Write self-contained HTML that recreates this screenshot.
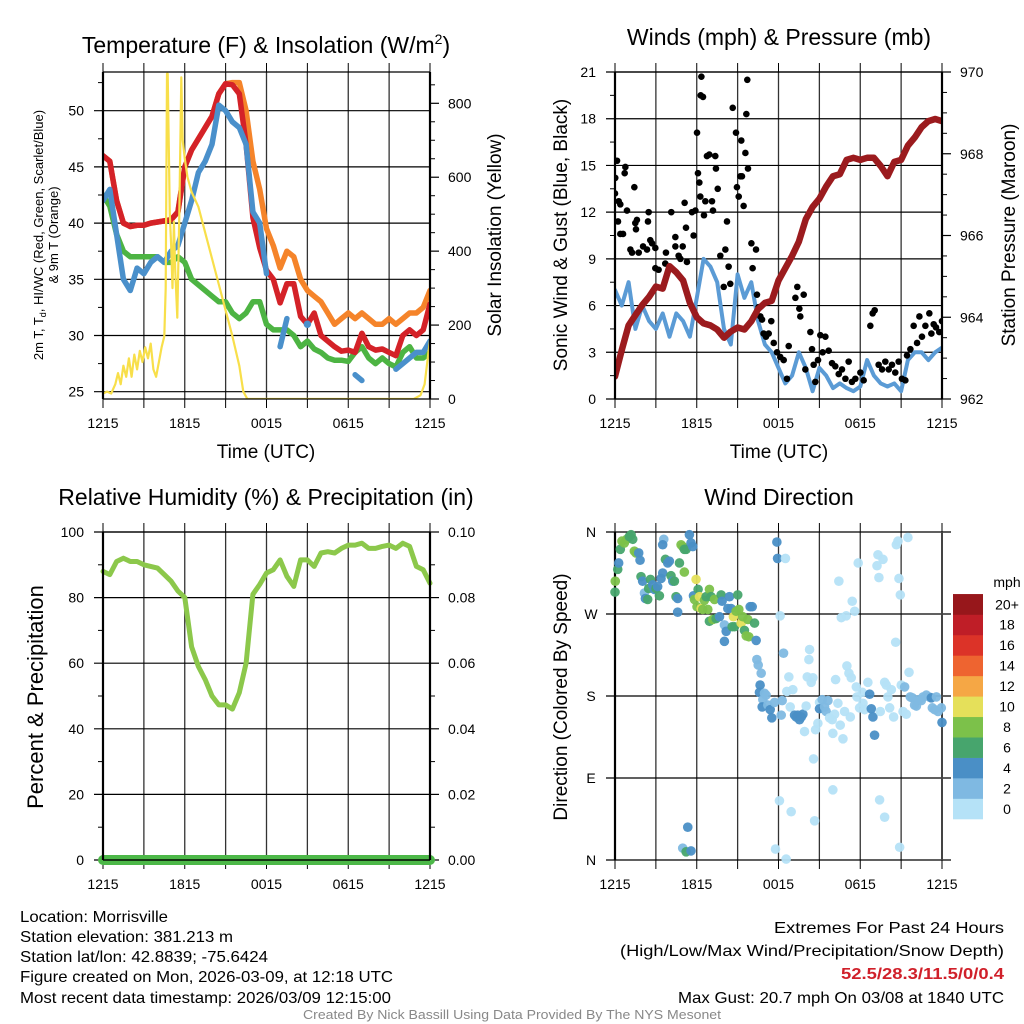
<!DOCTYPE html>
<html><head><meta charset="utf-8">
<style>
html,body{margin:0;padding:0;background:#fff;}
svg{display:block;font-family:"Liberation Sans",Arial,sans-serif;}
.ft{font-family:"Liberation Sans Narrow","Liberation Sans",sans-serif;}
</style></head>
<body>
<svg id="chart" width="1024" height="1024" viewBox="0 0 1024 1024" xmlns="http://www.w3.org/2000/svg">
  <rect width="1024" height="1024" fill="#fff"/>
  <defs>
    <clipPath id="c1"><rect x="103" y="72" width="327" height="327"/></clipPath>
    <clipPath id="c2"><rect x="615" y="72" width="327" height="327"/></clipPath>
    <clipPath id="c3"><rect x="96" y="526" width="341" height="341"/></clipPath>
    <clipPath id="c4"><rect x="608" y="526" width="341" height="341"/></clipPath>
  </defs>
  <g id="p1"></g>
  <g id="p2"></g>
  <g id="p3"></g>
  <g id="p4"></g>

  <text x="266" y="53" font-size="23" text-anchor="middle">Temperature (F) &amp; Insolation (W/m<tspan font-size="14" dy="-9">2</tspan><tspan dy="9">)</tspan></text>
  <text x="779" y="45" font-size="23" text-anchor="middle">Winds (mph) &amp; Pressure (mb)</text>
  <text x="266" y="505" font-size="23" text-anchor="middle">Relative Humidity (%) &amp; Precipitation (in)</text>
  <text x="779" y="505" font-size="23" text-anchor="middle">Wind Direction</text>

  <text x="266" y="458" font-size="19" text-anchor="middle">Time (UTC)</text>
  <text x="779" y="458" font-size="19" text-anchor="middle">Time (UTC)</text>

  <text transform="translate(43,235) rotate(-90)" font-size="13" text-anchor="middle">2m T, T<tspan font-size="9" dy="3">d</tspan><tspan dy="-3">, HI/WC (Red, Green, Scarlet/Blue)</tspan></text>
  <text transform="translate(58,235) rotate(-90)" font-size="13" text-anchor="middle">&amp; 9m T (Orange)</text>
  <text transform="translate(501,235) rotate(-90)" font-size="19" text-anchor="middle">Solar Insolation (Yellow)</text>
  <text transform="translate(567,235) rotate(-90)" font-size="19" text-anchor="middle">Sonic Wind &amp; Gust (Blue, Black)</text>
  <text transform="translate(1015,235) rotate(-90)" font-size="19" text-anchor="middle">Station Pressure (Maroon)</text>
  <text transform="translate(43,697) rotate(-90)" font-size="22" text-anchor="middle">Percent &amp; Precipitation</text>
  <text transform="translate(567,697) rotate(-90)" font-size="19" text-anchor="middle">Direction (Colored By Speed)</text>

  <g class="ft" font-size="16">
    <text x="20" y="922" textLength="148" lengthAdjust="spacingAndGlyphs">Location: Morrisville</text>
    <text x="20" y="942" textLength="213" lengthAdjust="spacingAndGlyphs">Station elevation: 381.213 m</text>
    <text x="20" y="962" textLength="248" lengthAdjust="spacingAndGlyphs">Station lat/lon: 42.8839; -75.6424</text>
    <text x="20" y="982" textLength="373" lengthAdjust="spacingAndGlyphs">Figure created on Mon, 2026-03-09, at 12:18 UTC</text>
    <text x="20" y="1003" textLength="371" lengthAdjust="spacingAndGlyphs">Most recent data timestamp: 2026/03/09 12:15:00</text>
  </g>
  <g class="ft" font-size="16">
    <text x="774" y="933" textLength="230" lengthAdjust="spacingAndGlyphs">Extremes For Past 24 Hours</text>
    <text x="620" y="956" textLength="384" lengthAdjust="spacingAndGlyphs">(High/Low/Max Wind/Precipitation/Snow Depth)</text>
    <text x="841" y="979" fill="#d0202a" font-weight="bold" textLength="163" lengthAdjust="spacingAndGlyphs">52.5/28.3/11.5/0/0.4</text>
    <text x="678" y="1003" textLength="326" lengthAdjust="spacingAndGlyphs">Max Gust: 20.7 mph On 03/08 at 1840 UTC</text>
  </g>
  <text class="ft" x="303" y="1019" font-size="13" fill="#888" textLength="418" lengthAdjust="spacingAndGlyphs">Created By Nick Bassill Using Data Provided By The NYS Mesonet</text>
</svg>
<script>
// ---------- DATA ----------
const halfHours = [];
for (let i = 0; i <= 48; i++) halfHours.push(i / 2);
const xTickLabels = ["1215", "1815", "0015", "0615", "1215"];

const airTemp = [46,45.5,42,40,39.7,39.8,39.8,40,40.1,40.2,40.3,41,45,46.5,47.5,48.5,49.5,51.5,52.4,52.3,51.5,47,40.5,37.8,35.8,
  35,32.9,34.6,34.6,31.7,31,32,30,29.5,29,28.6,28.7,28.5,30.2,29,28.7,28.8,28.5,28.2,30,30.5,30,30.5,32.8];
const temp9m = [46,45.5,42,40,39.7,39.8,39.8,40,40.1,40.2,40.3,41,45,46.5,47.5,48.5,49.5,51.5,52.4,52.5,52.5,50,45.5,43,39.5,
  38,36,37.5,37,35,34,33.5,33,32,31,31.5,32,31.5,32,31.5,31,31,31.5,31,31.5,32,32,32.5,34];
const dewPoint = [42.5,41.5,39,37.5,37,37,37,37,37,36.5,36.5,37,36.5,35,34.5,34,33.5,33,33,32,31.5,32,33,33,31,
  30.5,30.5,30.5,30,29,29.5,28.8,28.5,28,27.8,27.8,27.7,28.5,29,28,27.5,28,27.5,27.2,28.5,29,28,28,28.5];
const windChill = [42,43,39,35,34,36,35.5,36.5,37,36.5,37.5,38,40,42,44.5,45.5,47,50.5,50,49,48.5,47,41,40,35.5,
  null,29,31.5,null,null,31,null,null,null,null,null,null,26.5,26,null,null,null,null,27,27.5,28,28.5,28.5,29.5];
const solarHours = [0,0.3,0.6,0.9,1.1,1.3,1.5,1.7,1.9,2.1,2.3,2.5,2.7,2.9,3.1,3.3,3.5,3.7,3.9,4.1,
  4.3,4.5,4.6,4.7,4.75,4.9,5.0,5.1,5.2,5.3,5.45,5.6,5.75,5.85,6.0,6.2,6.5,7,7.5,8,
  8.5,9,9.5,10,10.3,10.6,12,16,20,22.8,23.3,23.6,23.8,24];
const solarWatts = [15,20,15,40,70,40,90,60,110,60,120,80,130,100,140,110,150,80,60,100,
  140,170,300,880,880,500,420,300,480,350,220,500,870,700,650,600,560,520,450,380,
  310,240,170,90,20,0,0,0,0,0,10,40,100,160];

const windSpeed = [7,6,7.5,4.5,6,5,4.5,5.5,4,5.5,5,4,6.5,9,8.5,7.5,4.5,3.5,8,6.5,7.5,5,3.5,3,2,
  1,1.5,3,2,0.5,2,1.5,0.7,1,0.7,0.5,0.8,2.5,1.5,1,0.8,1,0.5,2.5,3,3,2.5,3,3.3];
const pressure = [962.55,963.2,963.8,964.05,964.3,964.5,964.75,964.7,965.25,965.1,964.9,964.35,964.0,963.85,963.8,963.7,963.5,963.65,963.75,963.7,963.9,964.2,964.35,964.4,964.9,
  965.2,965.5,965.85,966.4,966.7,966.9,967.2,967.45,967.5,967.85,967.9,967.85,967.9,967.9,967.7,967.45,967.8,967.85,968.2,968.4,968.65,968.8,968.85,968.8];
const gustHours = [0,0.02,0.15,0.27,0.39,0.22,0.39,0.59,0.76,0.88,0.71,1.42,1.49,1.61,1.54,1.13,1.25,1.74,2.06,2.35,
  2.47,2.42,2.59,2.72,2.96,2.96,3.2,3.69,3.74,4.13,4.43,4.43,4.67,4.8,4.97,5.11,5.21,5.28,5.65,5.77,
  5.9,6.02,6.09,6.19,6.26,6.34,6.29,6.46,6.53,6.63,6.75,6.92,7.12,7.19,7.36,7.41,7.54,7.73,7.98,8.1,
  8.22,8.34,8.46,8.64,8.88,8.95,9.08,9.2,9.27,9.32,9.44,9.57,9.64,9.71,9.76,10.01,10.35,10.1,10.42,10.54,
  10.67,10.79,10.91,11.08,11.28,11.47,11.65,11.89,12.13,12.38,12.62,12.75,13.24,13.38,13.53,13.6,13.85,13.97,14.34,14.46,
  14.58,14.7,14.9,15.07,15.24,15.44,15.68,15.93,16.17,16.42,16.66,16.91,17.15,17.39,17.64,18.01,18.25,18.74,18.91,19.06,
  19.35,19.6,19.84,20.09,20.33,20.57,20.82,21.06,21.31,21.43,21.68,21.92,22.17,22.34,22.53,22.78,23.07,23.22,23.39,23.56,
  23.8,24];
const gustSpeeds = [13.2,14.2,15.3,12.7,12.5,11.4,10.6,10.6,14.9,12.1,14.5,13.6,11.3,11.5,10.9,9.6,9.4,9.4,9.8,9.6,
  12.0,11.4,10.2,10.0,9.7,8.4,8.3,8.7,9.4,12.0,10.4,9.8,9.2,9.0,9.8,12.6,11.0,8.8,12.0,10.5,
  12.1,17.1,14.5,13.9,13.0,20.7,19.5,19.4,11.8,12.7,15.6,15.7,12.7,12.1,15.6,14.8,13.5,9.2,7.2,9.6,
  11.4,8.5,7.4,18.7,17.1,13.6,13.0,14.3,16.6,14.3,12.4,15.8,18.3,20.5,14.8,10.0,9.6,8.4,6.7,5.9,
  5.3,5.1,4.2,4.0,4.2,5.0,3.6,3.0,2.7,2.5,1.3,3.4,6.5,7.2,5.8,5.3,6.7,1.9,4.3,3.2,
  2.2,1.1,2.5,4.1,3.0,4.0,3.1,2.3,2.1,1.6,1.9,1.3,2.4,1.1,1.3,1.7,1.2,4.7,5.5,5.7,
  2.2,1.9,2.4,1.9,2.2,1.7,2.4,1.3,1.2,2.8,3.2,4.7,3.6,5.3,4.0,4.7,5.5,4.2,4.8,4.6,
  4.3,5.0];

const humidity = [88,87,91,92,91,91,90,89.5,89,87,85,82,80,65,59,55,50,47.3,47.3,46,51,60,81,84,87.5,
  88.5,91.5,86.5,83.4,91.5,91.5,89.5,93.6,94,93.6,95,96,96,96.6,95,95,95.6,96,95,96.6,95.6,89.5,88.5,84.4];
const precip = [0,0,0,0,0,0,0,0,0,0,0,0,0,0,0,0,0,0,0,0,0,0,0,0,0,0,0,0,0,0,0,0,0,0,0,0,0,0,0,0,0,0,0,0,0,0,0,0,0];

const dirHours = [0,0.02,0.2,0.27,0.39,0.51,0.69,0.86,1.05,1.18,1.3,1.42,1.54,1.74,1.84,1.91,2.03,2.16,2.23,2.4,
  2.47,2.6,2.77,2.89,3.01,3.13,3.26,3.38,3.5,3.58,3.5,3.7,3.87,3.99,4.11,4.24,4.36,4.48,4.6,4.6,
  4.73,4.85,4.97,5.09,5.22,5.09,5.46,5.58,5.71,5.76,5.83,5.95,6.02,6.1,6.2,6.32,6.44,6.56,6.69,6.81,
  6.93,6.93,7.05,7.18,7.3,7.42,7.67,7.79,7.86,8.03,8.03,8.16,8.28,8.4,8.52,8.6,8.69,8.77,8.89,9.01,
  9.09,9.26,9.38,9.5,9.63,9.75,9.82,9.92,10.07,10.24,10.36,10.41,10.51,10.73,10.65,10.6,10.85,10.97,11.09,10.8,
  11.22,11.39,11.51,11.71,11.88,11.93,12.2,12.27,12.37,12.51,12.61,12.76,12.86,13.05,13.18,13.3,13.42,13.54,13.67,13.79,
  13.91,14.03,14.11,14.28,14.23,14.4,14.52,14.57,14.72,14.89,15.01,15.01,15.21,15.38,15.5,15.63,15.75,15.94,15.99,16.12,
  16.19,16.36,16.43,16.61,16.53,16.73,16.85,16.97,17.02,17.17,17.27,17.34,17.41,17.59,17.71,17.76,17.85,17.95,18.15,18.2,
  18.32,18.56,18.69,18.81,18.93,19.05,19.23,19.3,19.37,19.47,19.67,19.79,19.91,20.03,20.16,20.28,20.45,20.6,20.65,20.77,
  20.84,20.94,21.01,21.14,21.26,21.38,21.5,21.58,21.67,21.82,21.99,22.12,22.31,22.48,22.61,22.85,23.05,23.22,23.29,23.46,
  23.59,23.71,23.95,24,12.07,12.93,14.65,15.99,19.42,19.79,20.89,11.78,12.56,5.34,4.97,5.22,5.58,12.12];
const dirDegrees = [294,306,319,326,341,350,348,352,355,357,352,339,337,337,329,311,306,293,287,286,
  298,308,302,297,298,300,290,309,315,352,346,330,326,328,312,306,306,289,287,272,
  326,346,344,341,341,316,357,348,344,290,286,308,278,297,289,276,275,285,289,275,
  297,262,289,264,286,265,267,291,284,258,240,251,276,289,276,256,267,256,273,291,
  275,260,267,252,246,264,245,278,278,260,241,220,214,205,192,184,176,183,181,168,
  170,165,156,173,349,331,159,175,227,331,185,201,168,187,159,157,159,154,157,160,
  141,169,201,231,220,195,200,111,143,150,173,166,176,168,163,175,156,154,139,160,
  198,172,306,266,148,133,163,268,213,205,157,200,284,273,190,179,326,167,184,172,
  165,195,182,166,157,137,323,335,310,163,330,195,192,179,167,187,157,239,346,350,
  309,291,192,163,190,160,354,206,179,178,170,169,176,175,179,181,179,178,167,165,
  179,163,167,151,65,53,43,77,66,47,14,12,1,36,13,9,10,268];
const dirSpeeds = [7,9,7,5,7,9,9,9,7,7,7,9,9,5,5,7,5,3,5,7,
  7,7,5,5,7,5,7,5,5,3,5,7,5,5,7,5,7,7,5,5,
  7,9,9,7,7,9,5,5,5,5,9,11,9,7,11,11,9,9,7,9,
  9,7,7,9,9,7,5,7,5,3,5,5,5,5,5,7,11,7,9,7,
  9,11,9,7,9,9,9,5,5,7,5,3,3,3,5,5,3,3,3,5,
  3,5,5,3,5,5,3,3,3,1,1,1,1,1,5,5,5,5,5,5,
  1,1,1,1,1,1,1,1,1,1,1,5,3,3,3,3,1,1,1,1,
  1,1,1,1,1,1,1,1,1,1,1,1,1,1,1,1,1,1,1,1,
  1,1,5,5,5,5,1,1,1,1,1,1,1,1,1,1,1,1,1,1,
  1,1,1,1,3,1,1,1,3,3,3,3,3,3,3,3,3,5,3,3,
  3,3,3,5,1,1,1,1,1,1,1,1,1,5,3,7,5,1];
const speedBins = ["0","2","4","6","8","10","12","14","16","18","20+"];
const speedColors = ["#b5e2f7","#7fb9e2","#4a8fc6","#47a56d","#7cc14a","#e5e05a","#f5a745","#ee6430","#dc3328","#bf1e27","#97171b"];

// ---------- HELPERS ----------
const NS = "http://www.w3.org/2000/svg";
function mk(parent, tag, attrs, text) {
  const el = document.createElementNS(NS, tag);
  for (const k in attrs) el.setAttribute(k, attrs[k]);
  if (text !== undefined) el.textContent = text;
  parent.appendChild(el);
  return el;
}
function linScale(d0, d1, r0, r1) { return v => r0 + (v - d0) / (d1 - d0) * (r1 - r0); }

function drawTimeAxis(g, x0, x1, y0, y1, xs) {
  for (let h = 3; h < 24; h += 3) {
    const l = mk(g, "line", {x1: xs(h), x2: xs(h), y1: y0, y2: y1, stroke: "#333", "stroke-width": 1.3});
    
    
  }
  for (let h = 0; h <= 24; h += 3) {
    mk(g, "line", {x1: xs(h), x2: xs(h), y1: y1, y2: y1 + 9, stroke: "#000", "stroke-width": 1});
    mk(g, "line", {x1: xs(h), x2: xs(h), y1: y0 - 9, y2: y0, stroke: "#000", "stroke-width": 1});
  }
  for (let i = 0; i < xTickLabels.length; i++) {
    const t = mk(g, "text", {x: xs(i * 6), y: y1 + 29, "font-size": 14, "text-anchor": "middle"}, xTickLabels[i]);
    
    
  }
}
function drawFrame(g, x0, x1, y0, y1) {
  mk(g, "line", {x1: x0, x2: x1, y1: y0, y2: y0, stroke: "#000", "stroke-width": 1.3});
  mk(g, "line", {x1: x0, x2: x1, y1: y1, y2: y1, stroke: "#000", "stroke-width": 1.3});
  const a = mk(g, "line", {x1: x0, x2: x0, y1: y0, y2: y1, stroke: "#000", "stroke-width": 2.2});
  
  
  const b = mk(g, "line", {x1: x1, x2: x1, y1: y0, y2: y1, stroke: "#000", "stroke-width": 2.2});
  
  
}
function drawLeftAxis(g, x0, x1, ys, majors, minors, fmt) {
  majors.forEach(v => {
    mk(g, "line", {x1: x0 - 9, x2: x1, y1: ys(v), y2: ys(v), stroke: "#000", "stroke-width": 1.2});
    const t = mk(g, "text", {x: x0 - 19, y: ys(v) + 5, "font-size": 14, "text-anchor": "end"}, fmt(v));
    
    
  });
  minors.forEach(v => mk(g, "line", {x1: x0 - 5, x2: x0, y1: ys(v), y2: ys(v), stroke: "#000", "stroke-width": 1}));
}
function drawRightAxis(g, x1, ys, majors, minors, fmt) {
  majors.forEach(v => {
    mk(g, "line", {x1: x1, x2: x1 + 9, y1: ys(v), y2: ys(v), stroke: "#000", "stroke-width": 1.2});
    const t = mk(g, "text", {x: x1 + 18, y: ys(v) + 5, "font-size": 14}, fmt(v));
    
    
  });
  minors.forEach(v => mk(g, "line", {x1: x1, x2: x1 + 5, y1: ys(v), y2: ys(v), stroke: "#000", "stroke-width": 1}));
}
function range(a, b, s) { const r = []; for (let v = a; v <= b + 1e-9; v += s) r.push(+v.toFixed(4)); return r; }
function pathFrom(xsArr, vals, xs, ys) {
  let d = "", pen = false;
  for (let i = 0; i < vals.length; i++) {
    if (vals[i] === null || vals[i] === undefined) { pen = false; continue; }
    d += (pen ? "L" : "M") + xs(xsArr[i]).toFixed(1) + "," + ys(vals[i]).toFixed(1);
    pen = true;
  }
  return d;
}
function drawSeries(g, hours, vals, xs, ys, color, w, name) {
  const p = mk(g, "path", {d: pathFrom(hours, vals, xs, ys), fill: "none", stroke: color, "stroke-width": w, "stroke-linejoin": "round", "stroke-linecap": "round"});
  
  
  for (let i = 0; i < vals.length; i++) {
    if (vals[i] === null) continue;
    const prev = i > 0 ? vals[i - 1] : null, next = i < vals.length - 1 ? vals[i + 1] : null;
    if (prev === null && next === null) mk(g, "circle", {cx: xs(hours[i]), cy: ys(vals[i]), r: w / 2 + 1, fill: color});
  }
  return p;
}

// ---------- PANEL 1 ----------
(function () {
  const g = document.getElementById("p1");
  const x0 = 103, x1 = 430, y0 = 72, y1 = 399;
  const xs = linScale(0, 24, x0, x1);
  const ys = linScale(25, 50, 391.7, 110.7);
  const ysR = linScale(0, 800, 399, 103.3);
  drawTimeAxis(g, x0, x1, y0, y1, xs);
  drawLeftAxis(g, x0, x1, ys, range(25, 50, 5), range(27.5, 52.5, 5), v => String(v));
  drawRightAxis(g, x1, ysR, range(0, 800, 200), range(50, 850, 50).filter(v => v % 200), v => String(v));
  const d = mk(g, "g", {"clip-path": "url(#c1)"});
  drawSeries(d, halfHours, temp9m, xs, ys, "#f5842a", 5.5, "temp-9m-line");
  drawSeries(d, halfHours, dewPoint, xs, ys, "#4db443", 5.5, "dewpoint-line");
  drawSeries(d, halfHours, airTemp, xs, ys, "#d42228", 5.5, "air-temp-line");
  drawSeries(d, halfHours, windChill, xs, ys, "#4a90cb", 5.5, "wind-chill-line");
  drawSeries(d, solarHours, solarWatts, xs, ysR, "#f8df4a", 2.2, "solar-line");
  drawFrame(g, x0, x1, y0, y1);
})();

// ---------- PANEL 2 ----------
(function () {
  const g = document.getElementById("p2");
  const x0 = 615, x1 = 942, y0 = 72, y1 = 399;
  const xs = linScale(0, 24, x0, x1);
  const ys = linScale(0, 21, y1, y0);
  const ysR = linScale(962, 970, y1, y0);
  drawTimeAxis(g, x0, x1, y0, y1, xs);
  drawLeftAxis(g, x0, x1, ys, range(0, 21, 3), range(1.5, 19.5, 3), v => String(v));
  drawRightAxis(g, x1, ysR, range(962, 970, 2), range(962.5, 969.5, 0.5).filter(v => v % 2), v => String(v));
  const d = mk(g, "g", {"clip-path": "url(#c2)"});
  drawSeries(d, halfHours, windSpeed, xs, ys, "#5b9bd5", 4, "wind-speed-line");
  for (let i = 0; i < gustHours.length; i++) {
    const c = mk(d, "circle", {cx: xs(gustHours[i]), cy: ys(gustSpeeds[i]), r: 3.3, fill: "#000"});
    
    
  }
  drawSeries(d, halfHours, pressure, xs, ysR, "#9b1b1e", 6.5, "pressure-line");
  drawFrame(g, x0, x1, y0, y1);
})();

// ---------- PANEL 3 ----------
(function () {
  const g = document.getElementById("p3");
  const x0 = 103, x1 = 430, y0 = 532, y1 = 860;
  const xs = linScale(0, 24, x0, x1);
  const ys = linScale(0, 100, y1, y0);
  const ysR = linScale(0, 0.1, y1, y0);
  drawTimeAxis(g, x0, x1, y0, y1, xs);
  drawLeftAxis(g, x0, x1, ys, range(0, 100, 20), range(10, 90, 20), v => String(v));
  drawRightAxis(g, x1, ysR, range(0, 0.1, 0.02), range(0.01, 0.09, 0.02), v => v.toFixed(2));
  const d = mk(g, "g", {"clip-path": "url(#c3)"});
  drawSeries(d, halfHours, humidity, xs, ys, "#8cc84b", 5, "humidity-line");
  drawSeries(d, halfHours, precip, xs, ysR, "#4cb848", 10, "precip-line");
  drawFrame(g, x0, x1, y0, y1);
  mk(g, "line", {x1: x0, x2: x1, y1: y1, y2: y1, stroke: "#000", "stroke-width": 1.2});
})();

// ---------- PANEL 4 ----------
(function () {
  const g = document.getElementById("p4");
  const x0 = 615, x1 = 942, y0 = 532, y1 = 860;
  const xs = linScale(0, 24, x0, x1);
  const ys = linScale(0, 360, y1, y0);
  drawTimeAxis(g, x0, x1, y0, y1, xs);
  const dirLabels = ["N", "E", "S", "W", "N"];
  [0, 90, 180, 270, 360].forEach((v, i) => {
    mk(g, "line", {x1: x0 - 9, x2: x1 + 9, y1: ys(v), y2: ys(v), stroke: "#000", "stroke-width": 1.2});
    const t = mk(g, "text", {x: x0 - 24, y: ys(v) + 5, "font-size": 14, "text-anchor": "middle"}, dirLabels[i]);
    
    
  });
  mk(g, "line", {x1: x0, x2: x0, y1: y0, y2: y1, stroke: "#000", "stroke-width": 2.2});
  mk(g, "line", {x1: x1, x2: x1, y1: y0, y2: y1, stroke: "#444", "stroke-width": 2});
  const d = mk(g, "g", {"clip-path": "url(#c4)"});
  for (let i = 0; i < dirHours.length; i++) {
    const bin = Math.min(10, Math.floor(dirSpeeds[i] / 2));
    const c = mk(d, "circle", {cx: xs(dirHours[i]), cy: ys(dirDegrees[i]), r: 4.8, fill: speedColors[bin], "fill-opacity": 0.95});
    
    
  }
  const cb = mk(g, "g", {});
  
  
  const bh = 20.45, by = 819;
  for (let i = 0; i < speedBins.length; i++) {
    const r = mk(cb, "rect", {x: 953, y: by - (i + 1) * bh, width: 30, height: bh + 0.3, fill: speedColors[i]});
    
    
    const t = mk(cb, "text", {x: 1007, y: by - (i + 0.5) * bh + 5, "font-size": 14, "text-anchor": "middle"}, speedBins[i]);
    
    
  }
  const u = mk(cb, "text", {x: 1007, y: 587, "font-size": 14, "text-anchor": "middle"}, "mph");
  
  
})();
</script>
</body></html>
